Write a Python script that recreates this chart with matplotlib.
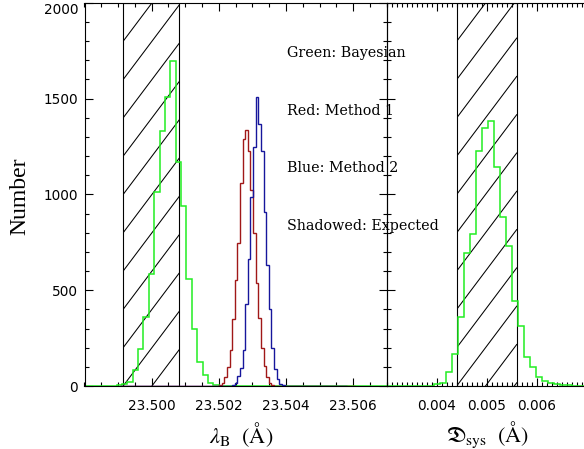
"""
Posterior histograms of lambda_B and D_sys for the Bayesian fit and the two
reference methods, with the expected ranges shaded.
"""
import numpy as np
import matplotlib.pyplot as plt
from matplotlib.ticker import FixedLocator, MultipleLocator, NullFormatter, FormatStrFormatter

plt.rcParams["mathtext.fontset"] = "stix"

# lambda_B histograms (counts per bin)
LAM_GREEN_START = 23.498955
LAM_GREEN_WIDTH = 0.00016
lam_green = [5, 10, 23, 83, 193, 358, 587, 1012, 1333, 1510, 1698,
             1168, 939, 557, 295, 123, 55, 14, 5]

LAM_METHOD_WIDTH = 0.000078
LAM_RED_START = 23.502007
lam_red = [3, 14, 49, 101, 188, 349, 552, 747, 1059, 1290, 1337,
           1224, 1021, 799, 535, 353, 196, 104, 49, 14, 3]
LAM_BLUE_START = 23.502397
lam_blue = [3, 17, 52, 92, 188, 427, 665, 986, 1247, 1507,
            1369, 1224, 908, 630, 400, 196, 87, 35, 12, 3]

# binning range of the method histograms (empty bins outside the peak)
lam_red_span = (23.4991, 23.5060)
lam_blue_span = (23.4991, 23.5058)
lam_expected = (23.49915, 23.50082)

# D_sys histogram (Bayesian only)
DSYS_GREEN_START = 0.00394
DSYS_GREEN_WIDTH = 0.00012
dsys_green = [9, 14, 75, 165, 358, 696, 792, 1226, 1345, 1385, 1142, 882,
              733, 444, 312, 153, 101, 49, 25, 15, 10, 5, 3]
dsys_expected = (0.0044, 0.0056)

lam_lim = (23.498, 23.507)
lam_ticks = [23.500, 23.502, 23.504, 23.506]
dsys_lim = (0.003, 0.007)
dsys_ticks = [0.004, 0.005, 0.006]
count_lim = (0, 2000)
count_ticks = [0, 500, 1000, 1500, 2000]

notes = ["Green: Bayesian", "Red: Method 1", "Blue: Method 2", "Shadowed: Expected"]
notes_y = [1715, 1415, 1115, 812]
NOTES_X = 23.50403

GREEN = "#22ee22"
RED = "#a01818"
BLUE = "#16169c"

W, H = 584, 449


def padded_hist(start, width, counts, lo, hi):
    counts = np.asarray(counts, dtype=float)
    n_left = max(int(np.ceil((start - lo) / width)), 0)
    end = start + width * len(counts)
    n_right = max(int(np.ceil((hi - end) / width)), 0)
    values = np.concatenate([np.zeros(n_left), counts, np.zeros(n_right)])
    edges = (start - n_left * width) + width * np.arange(len(values) + 1)
    return edges, values


def hatch_band(ax, lo, hi, spacing=38.3, slope=1.33):
    band = ax.axvspan(lo, hi, facecolor="none", edgecolor="black", lw=0.8, zorder=1)
    ymin, ymax = ax.get_ylim()
    (x0, y0), (x1, y1) = ax.transData.transform([(lo, ymin), (hi, ymax)])
    rise = slope * (x1 - x0)
    n_lo = -int(np.ceil(rise / spacing)) - 1
    n_hi = int(np.ceil((y1 - y0) / spacing)) + 1
    to_data = ax.transData.inverted()
    for k in range(n_lo, n_hi):
        ys = y0 + k * spacing
        seg = to_data.transform([(x0, ys), (x1, ys + rise)])
        line, = ax.plot(seg[:, 0], seg[:, 1], color="black", lw=0.75, zorder=1)
        line.set_clip_path(band)


def style_axes(ax, xlim, xticks, xminor, xfmt):
    ax.set_xlim(*xlim)
    ax.set_ylim(*count_lim)
    ax.xaxis.set_major_locator(FixedLocator(xticks))
    ax.xaxis.set_minor_locator(MultipleLocator(xminor))
    ax.xaxis.set_major_formatter(FormatStrFormatter(xfmt))
    ax.yaxis.set_major_locator(FixedLocator(count_ticks))
    ax.yaxis.set_minor_locator(MultipleLocator(100))
    ax.tick_params(which="both", direction="in", top=True, right=True,
                   width=0.8, labelsize=9.8)
    ax.tick_params(which="major", length=6)
    ax.tick_params(which="minor", length=3)
    ax.tick_params(axis="x", pad=9.4)
    ax.tick_params(axis="y", pad=4.5)
    for spine in ax.spines.values():
        spine.set_linewidth(0.8)
    ax.set_facecolor("none")


def main():
    fig = plt.figure(figsize=(W / 100, H / 100), dpi=100)
    bottom, top = (H - 386) / H, (H - 2.7) / H
    ax1 = fig.add_axes([84.5 / W, bottom, (386.7 - 84.5) / W, top - bottom])
    ax2 = fig.add_axes([386.7 / W, bottom, 200 / W, top - bottom])

    style_axes(ax1, lam_lim, lam_ticks, 0.0005, "%.3f")
    style_axes(ax2, dsys_lim, dsys_ticks, 0.0001, "%.3f")
    ax2.tick_params(which="both", labelleft=False, right=False)
    ax2.yaxis.set_major_formatter(NullFormatter())

    # keep the top label of the count axis inside the figure
    ax1.get_yticklabels()[-1].set_verticalalignment("top")

    # left panel: lambda_B
    hatch_band(ax1, *lam_expected)
    edges, vals = padded_hist(LAM_GREEN_START, LAM_GREEN_WIDTH, lam_green, 23.4975, 23.5075)
    ax1.stairs(vals, edges, color=GREEN, lw=1.1, zorder=2)
    edges, vals = padded_hist(LAM_RED_START, LAM_METHOD_WIDTH, lam_red, *lam_red_span)
    ax1.stairs(vals, edges, color=RED, lw=1.0, zorder=3)
    edges, vals = padded_hist(LAM_BLUE_START, LAM_METHOD_WIDTH, lam_blue, *lam_blue_span)
    ax1.stairs(vals, edges, color=BLUE, lw=1.0, zorder=4)

    # right panel: D_sys
    hatch_band(ax2, *dsys_expected)
    edges, vals = padded_hist(DSYS_GREEN_START, DSYS_GREEN_WIDTH, dsys_green, 0.0029, 0.0071)
    ax2.stairs(vals, edges, color=GREEN, lw=1.1, zorder=2)

    for text, y in zip(notes, notes_y):
        ax1.text(NOTES_X, y, text, family="DejaVu Serif", fontsize=10.3,
                 va="baseline", ha="left", zorder=5)

    fig.text(20 / W, 1 - 196 / H, "Number", family="Liberation Serif", fontsize=17,
             rotation=90, ha="center", va="center")
    fig.text(241 / W, 1 - 435 / H, r"$\lambda_{\rm B}\ \ (\mathrm{Å})$",
             fontsize=16, ha="center", va="center")
    fig.text(488 / W, 1 - 435 / H, r"$\mathfrak{D}_{\rm sys}\ \ (\mathrm{Å})$",
             fontsize=16, ha="center", va="center")

    fig.savefig("out.png", dpi=100)


if __name__ == "__main__":
    main()
